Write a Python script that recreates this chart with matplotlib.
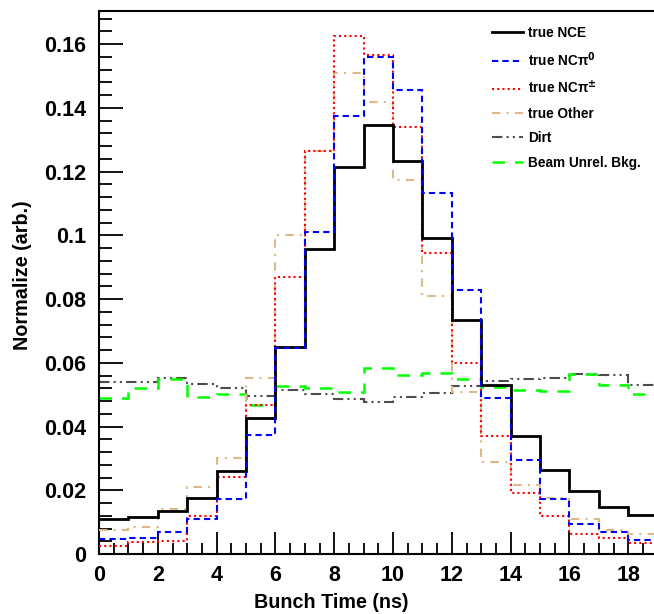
import numpy as np
import matplotlib.pyplot as plt
from matplotlib.ticker import MultipleLocator, FormatStrFormatter

plt.rcParams["font.family"] = ["Liberation Sans", "DejaVu Sans"]
plt.rcParams["font.weight"] = "bold"
plt.rcParams["mathtext.default"] = "bf"

# bin edges, 1 ns bins from 0 to 19
edges = np.arange(0, 20)

nce = [0.0111, 0.0117, 0.0134, 0.0177, 0.0261, 0.0428, 0.0650, 0.0956, 0.1216, 0.1345,
       0.1232, 0.0993, 0.0734, 0.0530, 0.0370, 0.0264, 0.0198, 0.0149, 0.0123]
ncpi0 = [0.0046, 0.0051, 0.0068, 0.0109, 0.0172, 0.0374, 0.0646, 0.1012, 0.1375, 0.1559,
         0.1457, 0.1134, 0.0829, 0.0489, 0.0295, 0.0174, 0.0093, 0.0068, 0.0045]
ncpipm = [0.0025, 0.0038, 0.0041, 0.0120, 0.0243, 0.0469, 0.0870, 0.1265, 0.1627, 0.1566,
          0.1341, 0.0946, 0.0599, 0.0370, 0.0190, 0.0120, 0.0062, 0.0051, 0.0036]
other = [0.0074, 0.0085, 0.0142, 0.0210, 0.0302, 0.0551, 0.1000, 0.1265, 0.1510, 0.1418,
         0.1174, 0.0810, 0.0507, 0.0290, 0.0217, 0.0177, 0.0110, 0.0075, 0.0063]
dirt = [0.0539, 0.0539, 0.0553, 0.0535, 0.0521, 0.0495, 0.0514, 0.0501, 0.0487, 0.0478,
        0.0494, 0.0504, 0.0527, 0.0543, 0.0549, 0.0553, 0.0564, 0.0561, 0.0531]
beam_unrel = [0.0489, 0.0521, 0.0549, 0.0494, 0.0501, 0.0467, 0.0528, 0.0522, 0.0509, 0.0584,
              0.0562, 0.0569, 0.0549, 0.0525, 0.0515, 0.0513, 0.0565, 0.0530, 0.0502]

fig = plt.figure(figsize=(6.54, 6.14), dpi=100)
ax = fig.add_axes([99/654, 60/614, 558.6/654, 543/614])

ax.stairs(dirt, edges, baseline=None, color="#4d4d4d", lw=1.5,
          ls=(0, (5, 2, 1, 2, 1, 2)), label="Dirt", zorder=2)
ax.stairs(beam_unrel, edges, baseline=None, color="#00ff00", lw=1.8,
          ls=(0, (5, 4)), label="Beam Unrel. Bkg.", zorder=2)
ax.stairs(other, edges, baseline=None, color="#deb887", lw=1.5,
          ls=(0, (4, 3, 1, 3)), label="true Other", zorder=3)
ax.stairs(ncpipm, edges, baseline=None, color="#ff0000", lw=1.5,
          ls=(0, (1, 1.5)), label=r"true NCπ$^{\pm}$", zorder=4)
ax.stairs(nce, edges, baseline=None, color="black", lw=2.0,
          label="true NCE", zorder=5)
ax.stairs(ncpi0, edges, baseline=None, color="#0000ff", lw=1.5,
          ls=(0, (3, 2)), label=r"true NCπ$^{0}$", zorder=6)

ax.set_xlim(0, 19)
ax.set_ylim(0, 0.1704)

ax.xaxis.set_major_locator(MultipleLocator(2))
ax.xaxis.set_minor_locator(MultipleLocator(0.5))
ax.yaxis.set_major_locator(MultipleLocator(0.02))
ax.yaxis.set_minor_locator(MultipleLocator(0.004))
ax.yaxis.set_major_formatter(FormatStrFormatter("%g"))

ax.tick_params(which="both", direction="in", top=False, right=False,
               labelsize=15.5, width=1.3)
ax.tick_params(axis="y", which="major", length=17, pad=9)
ax.tick_params(axis="y", which="minor", length=9)
ax.tick_params(axis="x", which="major", length=16, pad=8)
ax.tick_params(axis="x", which="minor", length=8)
for lab in ax.get_xticklabels() + ax.get_yticklabels():
    lab.set_fontweight("bold")
for s in ax.spines.values():
    s.set_linewidth(1.5)

ax.set_xlabel("Bunch Time (ns)", fontsize=14.2, fontweight="bold", va="center")
ax.set_ylabel("Normalize (arb.)", fontsize=14.2, fontweight="bold", va="center")
ax.xaxis.set_label_coords(0.415, -0.09)
ax.yaxis.set_label_coords(-0.137, 0.514)

handles, labels = ax.get_legend_handles_labels()
order = [4, 5, 3, 2, 0, 1]
ax.legend([handles[i] for i in order], [labels[i] for i in order],
          loc="upper left", bbox_to_anchor=(0.681, 0.995), frameon=False,
          handlelength=2.3, handletextpad=0.4, labelspacing=0.76,
          prop={"weight": "bold", "size": 9.8})

fig.savefig("out.png", dpi=100)
